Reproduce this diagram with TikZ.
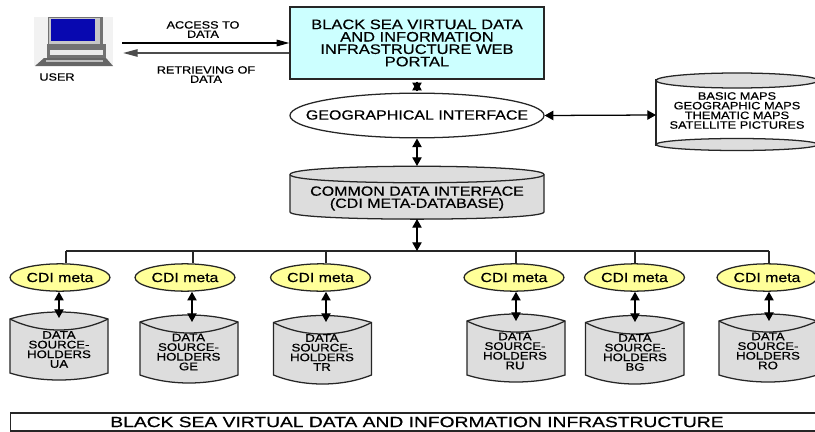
\documentclass[tikz,border=0pt]{standalone}
\usepackage{fontspec}
\setmainfont{Liberation Sans}[FakeStretch=1.2,FakeBold=0.6]
\newfontfamily\footfont{Liberation Sans}[FakeStretch=1.3,FakeBold=0.7]
\usetikzlibrary{arrows.meta,shapes.geometric}
\newcommand{\fs}[2]{\fontsize{#1pt}{#2pt}\selectfont}
% lens-topped data cylinder: name, x1, x2, apex, corner, lens bottom, body corner, bottom, arrow end y
\newcommand{\dbcyl}[9]{%
  \pgfmathsetmacro{\xm}{(#2+#3)/2}%
  \pgfmathsetmacro{\ca}{#5-(#5-#4)/.75}%
  \pgfmathsetmacro{\cb}{#5+(#6-#5)/.75}%
  \pgfmathsetmacro{\cc}{#7+(#8-#7)/.75}%
  \pgfmathsetmacro{\xa}{#2+(#3-#2)*.3}%
  \pgfmathsetmacro{\xb}{#3-(#3-#2)*.3}%
  \draw[dbline,fill=cylgray] (#2,#5) .. controls (\xa,\ca) and (\xb,\ca) .. (#3,#5) -- (#3,#7)
    .. controls (\xb,\cc) and (\xa,\cc) .. (#2,#7) -- cycle;
  \draw[dbline] (#2,#5) .. controls (\xa,\cb) and (\xb,\cb) .. (#3,#5);
  \coordinate (#1top) at (\xm,#9);
}
\tikzset{
  dbline/.style={draw=black!85,line width=.95pt},
  smalltxt/.style={align=center,inner sep=0pt,font=\fs{8.25}{7.25}},
  linktxt/.style={align=center,inner sep=0pt,font=\fs{7.9}{6.9}},
  bigtxt/.style={align=center,inner sep=0pt,font=\fs{10}{9.3}},
  metaell/.style={ellipse,draw=black!85,line width=.95pt,fill=metayellow,inner sep=0pt,minimum width=75pt,minimum height=20.5pt,font=\fs{9.9}{11}},
  twoway/.style={{Triangle[length=6.5pt,width=7pt]}-{Triangle[length=6.5pt,width=7pt]},line width=.95pt,black},
  headonly/.style={-{Triangle[length=6.5pt,width=7pt]},line width=.95pt,black},
  oneway/.style={-{Triangle[length=9.5pt,width=5pt]},line width=.8pt,black},
  wire/.style={line width=.95pt,draw=black!85},
}
\definecolor{metayellow}{HTML}{FFFF99}
\definecolor{portalcyan}{HTML}{CCFFFF}
\definecolor{cylgray}{HTML}{DDDDDD}
\definecolor{screenblue}{HTML}{0808B0}
\begin{document}
\begin{tikzpicture}[x=.75pt,y=-.75pt]
\fill[white] (0,0) rectangle (815,432);
\useasboundingbox (0,0) rectangle (815,432);

% user computer
\fill[black!5] (34,17) rectangle (113,66);
\fill[black!55] (48,17) rectangle (103,47);
\fill[black!22] (49,18) rectangle (100,45);
\fill[screenblue] (51,19) rectangle (95,41);
\fill[black!55] (47,44) rectangle (106,60);
\fill[black!8] (50,50) rectangle (103,55);
\fill[black!60] (44,58) -- (106,58) -- (113,66) -- (35,66) -- cycle;
\fill[black!25] (46,60) rectangle (103,62);

% portal and interfaces
\node[draw=black!85,line width=1.05pt,fill=portalcyan,minimum width=190.5pt,minimum height=54pt,inner sep=0pt,bigtxt,font=\fs{10.3}{9.3}] (portal) at (417,43)
  {BLACK SEA VIRTUAL DATA\\AND INFORMATION\\INFRASTRUCTURE WEB\\PORTAL};
\node[ellipse,draw=black!85,line width=.95pt,fill=white,minimum width=190.5pt,minimum height=33.5pt,inner sep=0pt] (geo) at (417,115.5) {};
\node[inner sep=0pt,font=\fs{10}{11}] (geotxt) at (417,115) {GEOGRAPHICAL INTERFACE};

% common data interface
\draw[dbline,fill=cylgray] (290,174.5) .. controls (290,163.5) and (544,163.5) .. (544,174.5) -- (544,212)
  .. controls (544,221.5) and (290,221.5) .. (290,212) -- cycle;
\draw[dbline] (290,174.5) .. controls (290,185.5) and (544,185.5) .. (544,174.5);
\node[bigtxt,font=\fs{10}{9.1}] (cdi) at (417,198.5) {COMMON DATA INTERFACE\\(CDI META-DATABASE)};
\coordinate (cditop) at (417,166);
\coordinate (cdibot) at (417,219);

% maps store
\draw[dbline,fill=white] (656,80) -- (656,145) -- (818,145) -- (818,80) -- cycle;
\draw[dbline,fill=cylgray] (737,80.5) ellipse (81 and 7.5);
\draw[dbline,fill=cylgray] (737,144.5) ellipse (81 and 6);
\node[smalltxt,font=\fs{8}{7.25}] (maps) at (737,110.5) {BASIC MAPS\\GEOGRAPHIC MAPS\\THEMATIC MAPS\\SATELLITE PICTURES};
\coordinate (mapsedge) at (656,115);

% bus
\coordinate (busmid) at (417,251);
\coordinate (bus1) at (66,251);
\coordinate (bus2) at (193,251);
\coordinate (bus3) at (326,251);
\coordinate (bus4) at (516,251);
\coordinate (bus5) at (635,251);
\coordinate (bus6) at (769,251);
\draw[wire] (bus1) -- (bus6);

% data stores
\dbcyl{ua}{10}{108}{312}{319}{330}{373}{380}{318}
\dbcyl{ge}{140}{238}{315}{322}{333}{375}{383}{322}
\dbcyl{tr}{273.5}{371.5}{315.5}{322.5}{334}{375}{384}{322}
\dbcyl{ru}{467}{565}{314}{321}{332}{375}{382}{321}
\dbcyl{bg}{585.5}{684}{315.5}{322.5}{334}{375}{384}{322}
\dbcyl{ro}{719}{817}{314}{321}{332}{375}{382}{321}

\node[smalltxt] (uatxt) at (59,349.5) {DATA\\SOURCE-\\HOLDERS\\UA};
\node[smalltxt] (getxt) at (188.5,352) {DATA\\SOURCE-\\HOLDERS\\GE};
\node[smalltxt] (trtxt) at (322,352.5) {DATA\\SOURCE-\\HOLDERS\\TR};
\node[smalltxt] (rutxt) at (515,351) {DATA\\SOURCE-\\HOLDERS\\RU};
\node[smalltxt] (bgtxt) at (635,352.5) {DATA\\SOURCE-\\HOLDERS\\BG};
\node[smalltxt] (rotxt) at (768,351) {DATA\\SOURCE-\\HOLDERS\\RO};

\node[metaell] (mua) at (60,277.5) {CDI meta};
\node[metaell] (mge) at (185,277.5) {CDI meta};
\node[metaell] (mtr) at (320.5,277.5) {CDI meta};
\node[metaell] (mru) at (514,277.5) {CDI meta};
\node[metaell] (mbg) at (634.5,277.5) {CDI meta};
\node[metaell] (mro) at (767,277.5) {CDI meta};

\draw[wire] (bus1) -- (mua.north -| bus1);
\draw[wire] (bus2) -- (mge.north -| bus2);
\draw[wire] (bus3) -- (mtr.north -| bus3);
\draw[wire] (bus4) -- (mru.north -| bus4);
\draw[wire] (bus5) -- (mbg.north -| bus5);
\draw[wire] (bus6) -- (mro.north -| bus6);

\coordinate (uaend) at (59,318);
\coordinate (geend) at (192,322);
\coordinate (trend) at (326,322);
\coordinate (ruend) at (516,321);
\coordinate (bgend) at (635,322);
\coordinate (roend) at (769,321);
\draw[twoway] (uaend |- mua.south) -- (uaend);
\draw[twoway] (geend |- mge.south) -- (geend);
\draw[twoway] (trend |- mtr.south) -- (trend);
\draw[twoway] (ruend |- mru.south) -- (ruend);
\draw[twoway] (bgend |- mbg.south) -- (bgend);
\draw[twoway] (roend |- mro.south) -- (roend);

% main connectors
\draw[headonly] ([yshift=1pt]geo.north) -- ([yshift=-1.5pt]portal.south);
\draw[headonly] ([yshift=-1.5pt]portal.south) -- ([yshift=1pt]geo.north);
\draw[twoway] (geo.south) -- (cditop);
\draw[twoway] (cdibot) -- (busmid);
\draw[twoway] (geo.east) -- (mapsedge);

% user links
\node[linktxt] (user) at (57,77) {USER};
\node[linktxt] (access) at (203,29.5) {ACCESS TO\\DATA};
\node[linktxt] (retr) at (206,74.5) {RETRIEVING OF\\DATA};
\coordinate (uout) at (122,43);
\coordinate (uin) at (123,53);
\draw[oneway] (uout) -- (uout -| portal.west);
\draw[-{Triangle[length=11pt,width=5.5pt]},line width=1.3pt,draw=black!70,fill=black!70] (uin -| portal.west) -- (uin);

% footer
\node[draw=black!85,line width=.95pt,minimum width=610pt,minimum height=13.5pt,inner sep=0pt] (foot) at (417,422) {};
\node[inner sep=0pt,font=\footfont\fs{11.1}{12}] (foottxt) at (417,422) {BLACK SEA VIRTUAL DATA AND INFORMATION INFRASTRUCTURE};
\end{tikzpicture}
\end{document}
